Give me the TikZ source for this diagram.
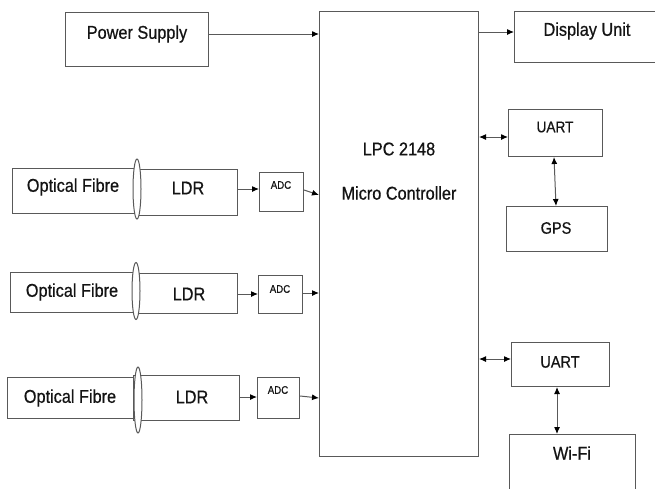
\documentclass[tikz,border=0pt]{standalone}
\usepackage{fontspec}
\setmainfont{Liberation Sans}[FakeStretch=0.88,FakeBold=0.6]
\usetikzlibrary{arrows.meta,shapes.geometric}
\begin{document}
\begin{tikzpicture}[x=1pt,y=-1pt,
  box/.style={draw=black!65,line width=1pt,fill=white,inner sep=0pt,anchor=north west},
  lbl/.style={inner sep=0pt,font=\fontsize{18.5}{20}\selectfont,text=black!92},
  small/.style={inner sep=0pt,font=\fontsize{11}{12}\selectfont,text=black!92},
  mid/.style={inner sep=0pt,font=\fontsize{15.5}{17}\selectfont,text=black!92},
  lens/.style={draw=black!65,line width=1pt,fill=white,ellipse,inner sep=0pt},
  tip/.style={Latex[length=7pt,width=6pt,color=black]},
  arr/.style={draw=black!65,line width=1pt,-{Latex[length=7pt,width=6pt,color=black]}},
  darr/.style={draw=black!65,line width=1pt,{Latex[length=7pt,width=6pt,color=black]}-{Latex[length=7pt,width=6pt,color=black]}}]
\useasboundingbox (0,0) rectangle (655,488);
\clip (0,0) rectangle (655,488);
% boxes
\node[box,minimum width=143pt,minimum height=54pt] (ps) at (65,12) {};
\node[box,minimum width=159pt,minimum height=445pt] (mc) at (319,11) {};
\node[box,minimum width=150pt,minimum height=51pt] (du) at (514,11) {};
\node[box,minimum width=94pt,minimum height=47pt] (u1) at (508,109) {};
\node[box,minimum width=101pt,minimum height=45pt] (gps) at (506,206) {};
\node[box,minimum width=98pt,minimum height=44pt] (u2) at (511,342) {};
\node[box,minimum width=126pt,minimum height=70pt] (wifi) at (509,434) {};
% row 1
\node[box,minimum width=125pt,minimum height=45pt] (of1) at (12,168) {};
\node[box,minimum width=100pt,minimum height=46pt] (ldr1) at (137,169) {};
\node[box,minimum width=44pt,minimum height=39pt] (adc1) at (259,172) {};
% row 2
\node[box,minimum width=123pt,minimum height=40pt] (of2) at (10,272) {};
\node[box,minimum width=104pt,minimum height=40pt] (ldr2) at (133,273) {};
\node[box,minimum width=44pt,minimum height=38pt] (adc2) at (258,275) {};
% row 3
\node[box,minimum width=126pt,minimum height=41pt] (of3) at (7,377) {};
\node[box,minimum width=106pt,minimum height=45pt] (ldr3) at (133,375) {};
\node[box,minimum width=42pt,minimum height=41pt] (adc3) at (257,377) {};
% lenses
\node[lens,minimum width=8pt,minimum height=60pt] (e1) at (137,189) {};
\node[lens,minimum width=8pt,minimum height=57pt] (e2) at (136,291) {};
\node[lens,minimum width=8pt,minimum height=66pt] (e3) at (138,400) {};
% labels
\node[lbl] (tps) at (137,34) {Power Supply};
\node[lbl] (tdu) at (587,31) {Display Unit};
\node[lbl] (tmc1) at (399,149) {LPC 2148};
\node[lbl] (tmc2) at (399,193) {Micro Controller};
\node[mid] (tu1) at (555,127) {UART};
\node[mid,font=\fontsize{16.5}{18}\selectfont] (tgps) at (556,228) {GPS};
\node[mid,font=\fontsize{16.5}{18}\selectfont] (tu2) at (560,362) {UART};
\node[lbl] (twifi) at (572,453) {Wi-Fi};
\node[lbl] (tof1) at (73,187) {Optical Fibre};
\node[lbl] (tldr1) at (188,188) {LDR};
\node[small] (tadc1) at (281,185) {ADC};
\node[lbl] (tof2) at (72,292) {Optical Fibre};
\node[lbl] (tldr2) at (189,294) {LDR};
\node[small] (tadc2) at (280,289) {ADC};
\node[lbl] (tof3) at (70,398) {Optical Fibre};
\node[lbl] (tldr3) at (192,397) {LDR};
\node[small] (tadc3) at (278,390) {ADC};
% connectors
\draw[arr] (ps.east |- 0,34) -- (mc.west |- 0,34);
\draw[arr] (mc.east |- 0,32) -- (du.west |- 0,32);
\draw[darr] (mc.east |- 0,137) -- (u1.west |- 0,137);
\draw[darr] (u1.south -| 554,0) -- (gps.north -| 556,0);
\draw[darr] (mc.east |- 0,359) -- (u2.west |- 0,359);
\draw[darr] (u2.south -| 557,0) -- (wifi.north -| 557,0);
\draw[arr] (ldr1.east |- 0,189) -- (adc1.west |- 0,189);
\draw[arr] (adc1.east |- 0,190) -- (mc.west |- 0,195);
\draw[arr] (ldr2.east |- 0,294) -- (adc2.west |- 0,294);
\draw[arr] (adc2.east |- 0,293) -- (mc.west |- 0,293);
\draw[arr] (ldr3.east |- 0,397) -- (adc3.west |- 0,397);
\draw[arr] (adc3.east |- 0,396) -- (mc.west |- 0,398);
\end{tikzpicture}
\end{document}
